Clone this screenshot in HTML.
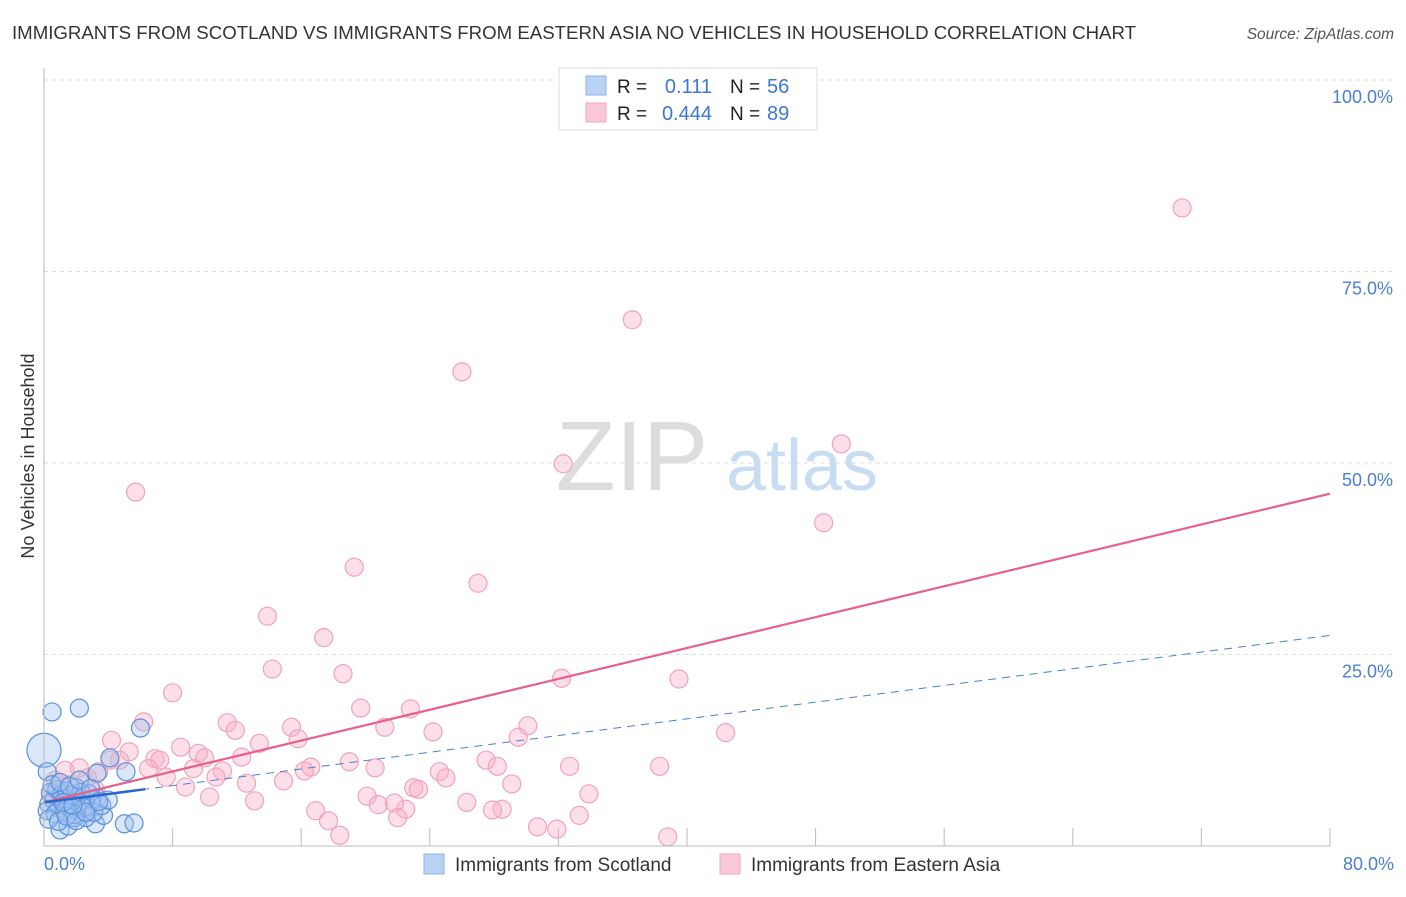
<!DOCTYPE html>
<html><head><meta charset="utf-8"><style>
body{margin:0;background:#fff;font-family:"Liberation Sans",sans-serif;}
svg text{font-family:"Liberation Sans",sans-serif;}
</style></head><body>
<svg id="c" width="1406" height="892">
<text x="12" y="39" font-size="18" fill="#333" textLength="1124" lengthAdjust="spacingAndGlyphs">IMMIGRANTS FROM SCOTLAND VS IMMIGRANTS FROM EASTERN ASIA NO VEHICLES IN HOUSEHOLD CORRELATION CHART</text>
<text x="1394" y="39" font-size="15.5" fill="#555" font-style="italic" text-anchor="end">Source: ZipAtlas.com</text>
<text x="34" y="456" font-size="18" fill="#333" text-anchor="middle" transform="rotate(-90 34 456)">No Vehicles in Household</text>
<g><text x="632" y="490" font-size="98" fill="#ddd" font-family="Liberation Serif,serif" text-anchor="middle">ZIP</text><text x="802" y="490" font-size="72" fill="#c8dcf2" text-anchor="middle">atlas</text></g>
<g id="grid"></g><g id="pts"></g><g id="lines"></g>
<line x1="44" y1="68" x2="44" y2="846" stroke="#bbb"/>
<line x1="44" y1="846" x2="1330" y2="846" stroke="#bbb"/>
<text x="44" y="870" font-size="18" fill="#4a7fd4">0.0%</text>
<text x="1394" y="870" font-size="18" fill="#4a7fd4" text-anchor="end">80.0%</text>
<g>
<rect x="559" y="68" width="258" height="62" fill="#fff" stroke="#ddd"/>
<rect x="586" y="76" width="20" height="19" fill="#b8d3f4" stroke="#8ab3e8"/>
<rect x="586" y="103" width="20" height="19" fill="#fbc8d6" stroke="#f2a6bd"/>
<text x="617" y="93" font-size="19" fill="#222">R =</text><text x="712" y="93" font-size="20" fill="#3a78d4" text-anchor="end">0.111</text>
<text x="730" y="93" font-size="19" fill="#222">N =</text><text x="767" y="93" font-size="20" fill="#3a78d4">56</text>
<text x="617" y="120" font-size="19" fill="#222">R =</text><text x="712" y="120" font-size="20" fill="#3a78d4" text-anchor="end">0.444</text>
<text x="730" y="120" font-size="19" fill="#222">N =</text><text x="767" y="120" font-size="20" fill="#3a78d4">89</text>
</g>
<g>
<rect x="424" y="854" width="20" height="20" fill="#b8d3f4" stroke="#8ab3e8"/>
<text x="455" y="871" font-size="19" fill="#333">Immigrants from Scotland</text>
<rect x="720" y="854" width="20" height="20" fill="#fbc8d6" stroke="#f2a6bd"/>
<text x="751" y="871" font-size="19" fill="#333">Immigrants from Eastern Asia</text>
</g>
</svg>
<script>
const yTicks=[25,50,75,100];
const yTickLabels=["25.0%","50.0%","75.0%","100.0%"];
const xTicks=[8,16,24,32,40,48,56,64,72,80];
const pinkX=[70.8,36.6,26.0,32.3,49.6,48.5,5.7,19.3,27.0,13.9,17.4,14.2,18.6,32.2,39.5,8.0,19.7,22.8,6.2,11.4,15.4,30.1,21.2,11.9,24.2,29.5,42.4,15.8,13.4,4.2,8.5,5.3,9.6,12.3,6.9,7.2,10.0,4.7,19.0,27.5,28.2,32.7,38.3,16.6,20.6,6.5,9.3,16.2,11.1,24.6,2.2,3.4,7.6,25.0,10.7,29.1,14.9,12.6,8.8,23.0,23.3,33.9,20.1,10.3,13.1,20.8,22.5,26.3,28.5,16.9,21.8,33.3,22.0,17.7,30.7,31.9,18.4,38.8,27.9,0.7,1.0,1.6,2.7,0.4,1.9,3.2,1.3,4.1,2.6];
const pinkY=[83.3,68.7,61.9,49.9,52.5,42.2,46.2,36.4,34.3,30.0,27.2,23.1,22.5,21.9,21.8,20.0,18.0,17.9,16.2,16.1,15.5,15.7,15.5,15.1,14.9,14.2,14.8,14.0,13.4,13.8,12.9,12.3,12.1,11.6,11.4,11.2,11.5,11.2,11.0,11.2,10.4,10.4,10.4,10.3,10.2,10.1,10.1,9.8,9.8,9.7,10.2,9.7,9.0,8.9,9.0,8.1,8.5,8.2,7.7,7.6,7.4,6.8,6.5,6.4,5.9,5.4,4.8,5.7,4.8,4.6,5.6,4.0,3.7,3.3,2.5,2.2,1.4,1.2,4.7,8.6,7.3,8.0,8.9,6.7,6.0,7.3,9.9,11.2,6.0];
const blueX=[0,0.5,2.2,6.0,4.1,5.1,3.3,0.2,5.0,5.6,1.0,1.5,3.2,3.7,2.6,1.9,3.3,2.8,0.3,0.6,0.9,1.2,1.5,1.8,2.1,2.4,2.7,3.0,0.4,0.8,1.1,1.4,1.7,2.0,2.3,0.2,0.7,1.3,1.9,2.5,3.1,3.6,4.0,0.5,1.0,1.6,2.2,2.9,0.3,0.9,1.4,2.0,2.6,3.4,1.2,1.8];
const blueY=[12.5,17.5,18.0,15.4,11.5,9.7,9.5,9.7,2.9,3.0,2.1,2.6,2.9,4.0,3.7,3.7,6.3,6.8,5.5,6.0,5.0,6.2,5.6,4.8,6.5,5.8,5.2,6.1,7.0,7.4,6.8,7.2,6.6,7.6,7.0,4.6,4.2,4.5,4.1,5.0,4.4,5.3,6.0,8.0,8.3,7.8,8.6,7.5,3.5,3.2,3.9,3.3,4.4,5.8,5.7,5.3];
const pinkLine=[5.7,46.0];
const blueLine=[5.7,27.5];
const X=v=>44+v/80*1286, Y=v=>846-v/100*766;
const NS="http://www.w3.org/2000/svg";
function mk(g,t,a){const e=document.createElementNS(NS,t);for(const k in a)e.setAttribute(k,a[k]);document.getElementById(g).appendChild(e);return e;}
yTicks.forEach((t,i)=>{
 const l=mk('grid','line',{x1:44,x2:1395,y1:Y(t),y2:Y(t),stroke:'#ddd','stroke-dasharray':'4 4'});
 
 
 const tx=mk('grid','text',{x:1393,y:Y(t)+23,'font-size':18,fill:'#4a7fd4','text-anchor':'end'});
 tx.textContent=yTickLabels[i];
 
 
});
xTicks.forEach(t=>{
 const l=mk('grid','line',{x1:X(t),x2:X(t),y1:828,y2:846,stroke:'#bbb'});
 
 
});
pinkX.forEach((v,i)=>{
 const c=mk('pts','circle',{cx:X(v),cy:Y(pinkY[i]),r:9,fill:'rgba(248,175,198,0.4)',stroke:'#f0a3bb','stroke-width':1.2});
 
 
});
blueX.forEach((v,i)=>{
 const c=mk('pts','circle',{cx:X(v),cy:Y(blueY[i]),r:i==0?17:9,fill:'rgba(160,195,240,0.4)',stroke:'#5b90dc','stroke-width':1.2});
 
 
});
const pl=mk('lines','line',{x1:X(0),y1:Y(pinkLine[0]),x2:X(80),y2:Y(pinkLine[1]),stroke:'#e8608a','stroke-width':2.2});


const bl=mk('lines','line',{x1:X(0),y1:Y(blueLine[0]),x2:X(80),y2:Y(blueLine[1]),stroke:'#4a7fd4','stroke-width':1,'stroke-dasharray':'8 6'});


const bs=mk('lines','line',{x1:X(0),y1:Y(blueLine[0]),x2:X(6.3),y2:Y(blueLine[0]+(blueLine[1]-blueLine[0])*6.3/80),stroke:'#2a68d0','stroke-width':2.5});


</script>
</body></html>
